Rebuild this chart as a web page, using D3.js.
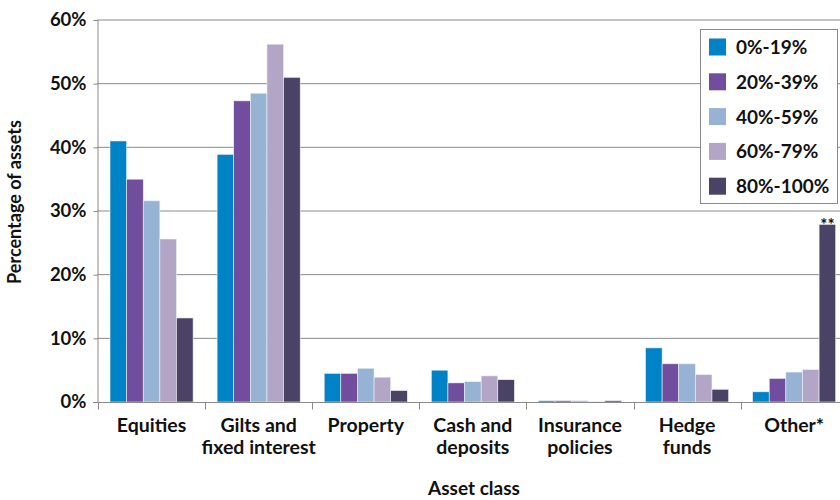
<!DOCTYPE html>
<html><head><meta charset="utf-8">
<script src="https://cdn.jsdelivr.net/npm/d3@7"></script>
<style>body{margin:0;background:#fff}svg{display:block}text{font-family:Lato,"Open Sans",sans-serif;font-weight:700;fill:#111}</style>
</head><body><svg id="c" width="840" height="500"></svg>
<script>
const categories = [["Equities"],["Gilts and","fixed interest"],["Property"],["Cash and","deposits"],["Insurance","policies"],["Hedge","funds"],["Other*"]];
const seriesNames = ["0%-19%","20%-39%","40%-59%","60%-79%","80%-100%"];
const colors = ["#0082c6","#704d9d","#96b3d3","#b3a5c6","#4a4366"];
const s0 = [41.0, 38.9, 4.5, 5.0, 0.2, 8.5, 1.6];
const s1 = [35.0, 47.3, 4.5, 3.0, 0.2, 6.0, 3.7];
const s2 = [31.6, 48.5, 5.3, 3.2, 0.2, 6.0, 4.7];
const s3 = [25.6, 56.2, 3.9, 4.1, 0.1, 4.3, 5.1];
const s4 = [13.2, 51.0, 1.8, 3.5, 0.2, 2.0, 27.9];
const yTicks = [0,10,20,30,40,50,60];
const series = [s0,s1,s2,s3,s4];

const svg = d3.select("#c");
const catKeys = categories.map(c=>c.join(" "));
const x0 = d3.scaleBand().domain(catKeys).range([98, 98+7*107.1]).padding(0);
const x1 = d3.scaleBand().domain(seriesNames).range([12, x0.bandwidth()-12]).padding(0);
const y = d3.scaleLinear().domain([0,60]).range([402,20]);

// gridlines
svg.append("g").selectAll("line").data(yTicks.filter(t=>t>0)).join("line")
  .attr("x1",97).attr("x2",840).attr("y1",d=>y(d)).attr("y2",d=>y(d))
  .attr("stroke","#8a8a8a").attr("stroke-width",1);

// y axis
const ya = svg.append("g").attr("transform","translate(97.5,0)")
  .call(d3.axisLeft(y).tickValues(yTicks).tickFormat(d=>d+"%").tickSize(4).tickPadding(7));
ya.select(".domain").attr("stroke","#8a8a8a");
ya.selectAll(".tick line").attr("stroke","#8a8a8a");
ya.selectAll("text").style("font-size","18.5px").attr("fill","#111");

// bars
const g = svg.append("g");
catKeys.forEach((c,i)=>{
  series.forEach((s,j)=>{
    g.append("rect").attr("x",x0(c)+x1(seriesNames[j])).attr("width",x1.bandwidth())
      .attr("y",y(s[i])).attr("height",y(0)-y(s[i]))
      .attr("fill",colors[j]).attr("stroke","#eef0f6").attr("stroke-width",0.6);
  });
});

// x axis
const xa = svg.append("g").attr("transform","translate(0,402.5)");
xa.append("line").attr("x1",93).attr("x2",840).attr("stroke","#8a8a8a");
xa.selectAll(".tk").data(catKeys).join("line").attr("class","tk")
  .attr("x1",d=>Math.round(x0(d))+0.5).attr("x2",d=>Math.round(x0(d))+0.5).attr("y1",0).attr("y2",7)
  .attr("stroke","#8a8a8a");
categories.forEach((lines,i)=>{
  const t = svg.append("text").attr("text-anchor","middle").style("font-size","19.5px");
  lines.forEach((ln,k)=>t.append("tspan").attr("x",x0(catKeys[i])+x0.bandwidth()/2).attr("y",432+k*21.5).text(ln));
});

// ** annotation
svg.append("text").attr("x",x0(catKeys[6])+x1(seriesNames[4])+x1.bandwidth()/2).attr("y",y(s4[6])+7)
  .attr("text-anchor","middle").style("font-size","17px").text("**");

// axis titles
svg.append("text").attr("x",474).attr("y",495).attr("text-anchor","middle").style("font-size","19px").text("Asset class");
svg.append("text").attr("transform","translate(21,202) rotate(-90)").attr("text-anchor","middle").style("font-size","18px").text("Percentage of assets");

// legend
const lg = svg.append("g");
lg.append("rect").attr("x",700.5).attr("y",29.5).attr("width",137).attr("height",174).attr("fill","#fff").attr("stroke","#8a8a8a").attr("stroke-width",1);
seriesNames.forEach((n,j)=>{
  const cy = 47 + j*34.8;
  lg.append("rect").attr("x",709).attr("y",cy-8.5).attr("width",17).attr("height",17).attr("fill",colors[j]);
  lg.append("text").attr("x",736).attr("y",cy+7).style("font-size","19px").text(n);
});
</script></body></html>
